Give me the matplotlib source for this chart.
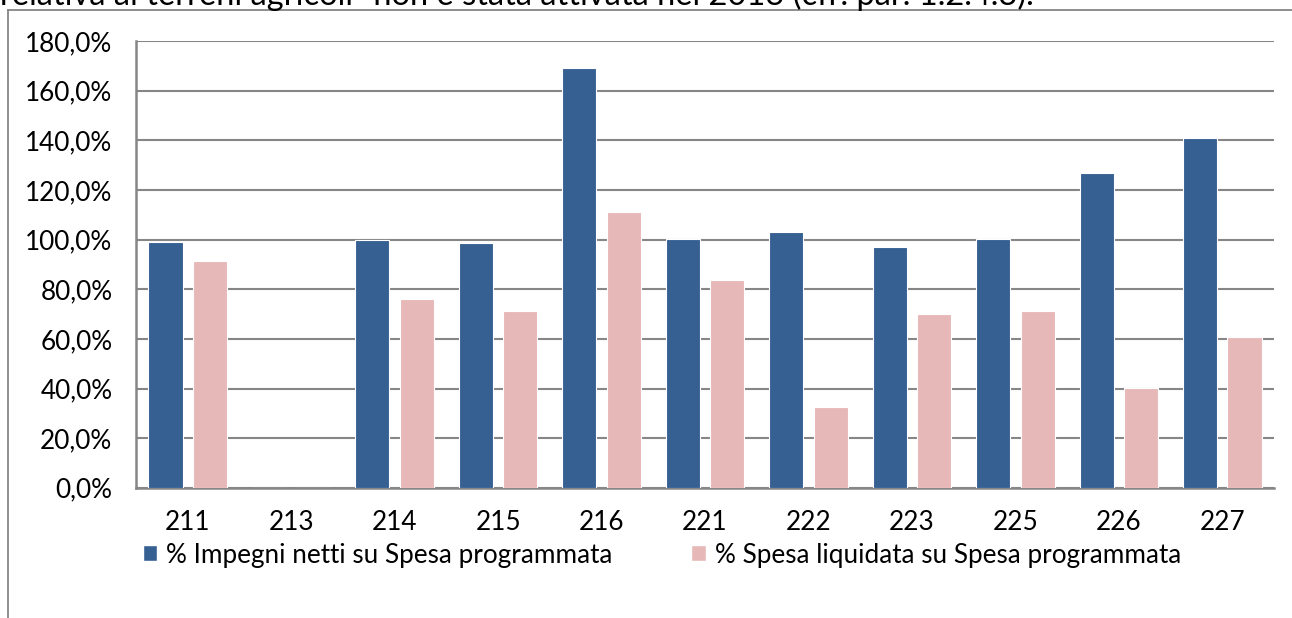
import matplotlib
matplotlib.use("Agg")
import matplotlib.pyplot as plt
from matplotlib.patches import Patch
from matplotlib.lines import Line2D
from matplotlib.ticker import FuncFormatter, MultipleLocator
import numpy as np

plt.rcParams['font.family'] = ['Lato', 'DejaVu Sans']

categories = ["211", "213", "214", "215", "216", "221", "222", "223", "225", "226", "227"]
impegni = [99.0, 0.0, 99.8, 98.6, 169.3, 100.1, 103.2, 97.2, 100.1, 126.7, 140.8]
liquidata = [91.5, 0.0, 76.1, 71.3, 111.1, 83.7, 32.5, 70.2, 71.1, 40.4, 60.8]
series_labels = ["% Impegni netti su Spesa programmata", "% Spesa liquidata su Spesa programmata"]
top_text = "relativa ai terreni agricoli\u201d non è stata attivata nel 2013 (cfr. par. 1.2.4.3)."

blue = "#366092"
pink = "#E6B9B8"
grey = "#868686"

W, H = 1292, 618
fig = plt.figure(figsize=(W / 100, H / 100), dpi=100)

# outer frame (top and left edges visible)
fig.add_artist(Line2D([8 / W, 1.0], [1 - 10 / H, 1 - 10 / H], color=grey, lw=1.3, transform=fig.transFigure))
fig.add_artist(Line2D([8 / W, 8 / W], [0, 1 - 10 / H], color=grey, lw=1.3, transform=fig.transFigure))

# text line at the top, partly cut off by the image edge as in the source
fig.text(0.0, 1 - 5 / H, top_text, fontsize=23.5, ha='left', va='baseline', color='black')

ax = fig.add_axes([136 / W, (H - 487.8) / H, 1138 / W, (487.8 - 41) / H])
x = np.arange(len(categories))
bw = 0.33
off = 0.215
ax.bar(x - off, impegni, width=bw, color=blue, edgecolor='white', linewidth=0.8, zorder=3)
ax.bar(x + off, liquidata, width=bw, color=pink, edgecolor='white', linewidth=0.8, zorder=3)

ax.set_xlim(-0.5, len(categories) - 0.5)
ax.set_ylim(0, 180)
ax.yaxis.set_major_locator(MultipleLocator(20))
ax.yaxis.set_major_formatter(FuncFormatter(lambda v, p: f"{v:.1f}".replace('.', ',') + "%"))
ax.set_xticks(x)
ax.set_xticklabels(categories)
ax.grid(axis='y', color=grey, linewidth=1.5, zorder=0)
ax.set_axisbelow(True)
for s in ['top', 'right']:
    ax.spines[s].set_visible(False)
for s in ['left', 'bottom']:
    ax.spines[s].set_color(grey)
    ax.spines[s].set_linewidth(1.8)
ax.tick_params(axis='y', length=0, pad=17, labelsize=18.8)
ax.tick_params(axis='x', length=0, pad=16, labelsize=18.8)

handles = [Patch(facecolor=blue, edgecolor='white'), Patch(facecolor=pink, edgecolor='white')]
fig.legend(handles, series_labels, loc='center left', bbox_to_anchor=(143 / W, 1 - 555 / H),
           ncol=2, frameon=False, fontsize=18.8, handlelength=0.55, handleheight=0.55,
           handletextpad=0.35, columnspacing=3.0, borderaxespad=0, borderpad=0)

fig.savefig("out.png", dpi=100)
